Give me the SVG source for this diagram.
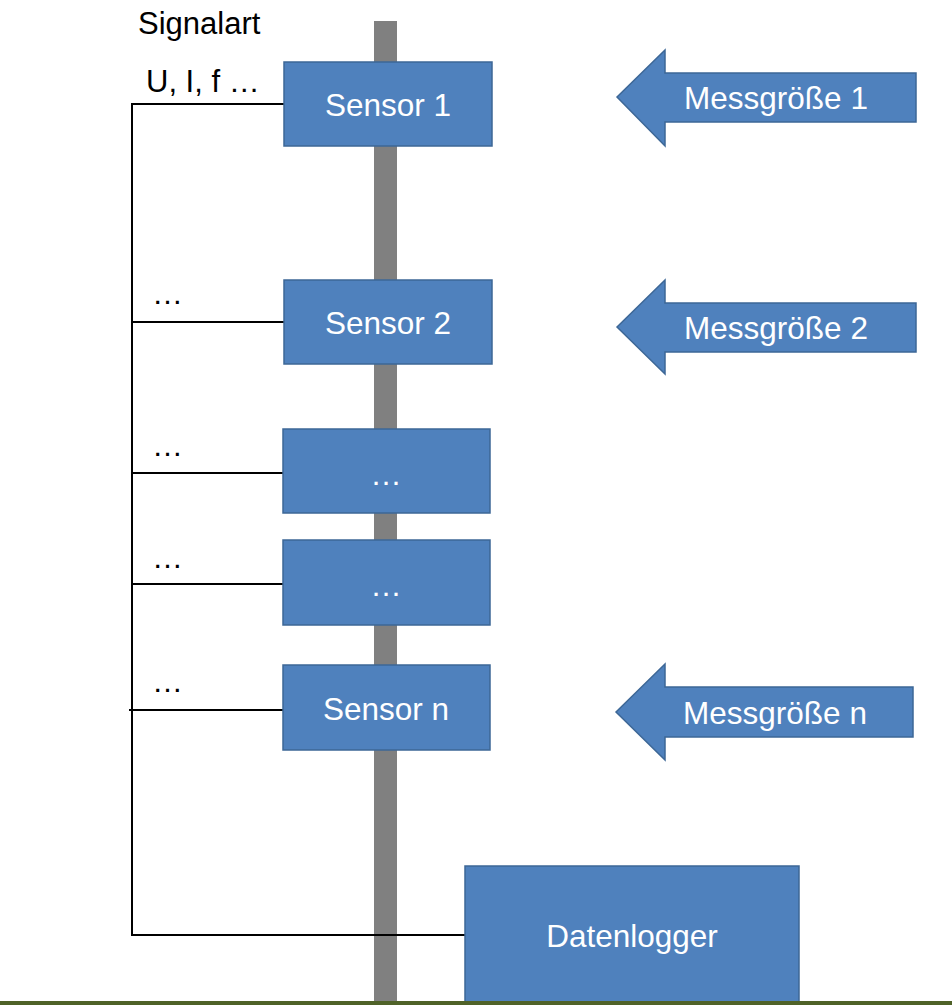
<svg xmlns="http://www.w3.org/2000/svg" width="952" height="1005" viewBox="0 0 952 1005">
  <style>
    .box { fill: #4f81bd; stroke: #3d6796; stroke-width: 1.5; }
    .wire { stroke: #000; stroke-width: 2; fill: none; }
    .lbl { font-family: "Liberation Sans", Arial, sans-serif; font-size: 31.5px; fill: #fff; text-anchor: middle; }
    .note { font-family: "Liberation Sans", Arial, sans-serif; font-size: 31px; fill: #000; }
  </style>
  <rect width="952" height="1005" fill="#fff"/>

  <!-- mounting pole -->
  <rect id="pole" x="374" y="21" width="23" height="984" fill="#808080"/>

  <!-- signal wiring -->
  <g id="connectors">
    <path class="wire" d="M284 104 H132 V935 H465"/>
    <line class="wire" x1="132" y1="322" x2="284" y2="322"/>
    <line class="wire" x1="132" y1="473" x2="283" y2="473"/>
    <line class="wire" x1="132" y1="584" x2="283" y2="584"/>
    <line class="wire" x1="129" y1="710" x2="283" y2="710"/>
  </g>

  <text class="note" x="138" y="34">Signalart</text>
  <text class="note" x="146" y="92">U, I, f …</text>
  <text class="note" x="152" y="304">…</text>
  <text class="note" x="152" y="456">…</text>
  <text class="note" x="152" y="568">…</text>
  <text class="note" x="152" y="692">…</text>

  <g id="sensor1">
    <rect class="box" x="284" y="62" width="208" height="84"/>
    <text class="lbl" x="388" y="116">Sensor 1</text>
  </g>
  <g id="sensor2">
    <rect class="box" x="284" y="280" width="208" height="84"/>
    <text class="lbl" x="388" y="334">Sensor 2</text>
  </g>
  <g id="sensor3">
    <rect class="box" x="283" y="429" width="207" height="84"/>
    <text class="lbl" x="386" y="485" font-size="29">…</text>
  </g>
  <g id="sensor4">
    <rect class="box" x="283" y="540" width="207" height="85"/>
    <text class="lbl" x="386" y="596" font-size="29">…</text>
  </g>
  <g id="sensorN">
    <rect class="box" x="283" y="665" width="207" height="85"/>
    <text class="lbl" x="386" y="720">Sensor n</text>
  </g>
  <g id="datenlogger">
    <rect class="box" x="465" y="866" width="334" height="145"/>
    <text class="lbl" x="632" y="947">Datenlogger</text>
  </g>

  <g id="messgroesse1">
    <polygon class="box" points="617,97 665,50 665,73 916,73 916,122 665,122 665,146"/>
    <text class="lbl" x="776" y="109">Messgröße 1</text>
  </g>
  <g id="messgroesse2">
    <polygon class="box" points="617,327 665,280 665,303 916,303 916,352 665,352 665,374"/>
    <text class="lbl" x="776" y="339">Messgröße 2</text>
  </g>
  <g id="messgroesseN">
    <polygon class="box" points="616,712 665,664 665,687 913,687 913,737 665,737 665,760"/>
    <text class="lbl" x="775" y="724">Messgröße n</text>
  </g>

  <rect id="ground" x="0" y="1001" width="952" height="4" fill="#4f6228"/>
</svg>
